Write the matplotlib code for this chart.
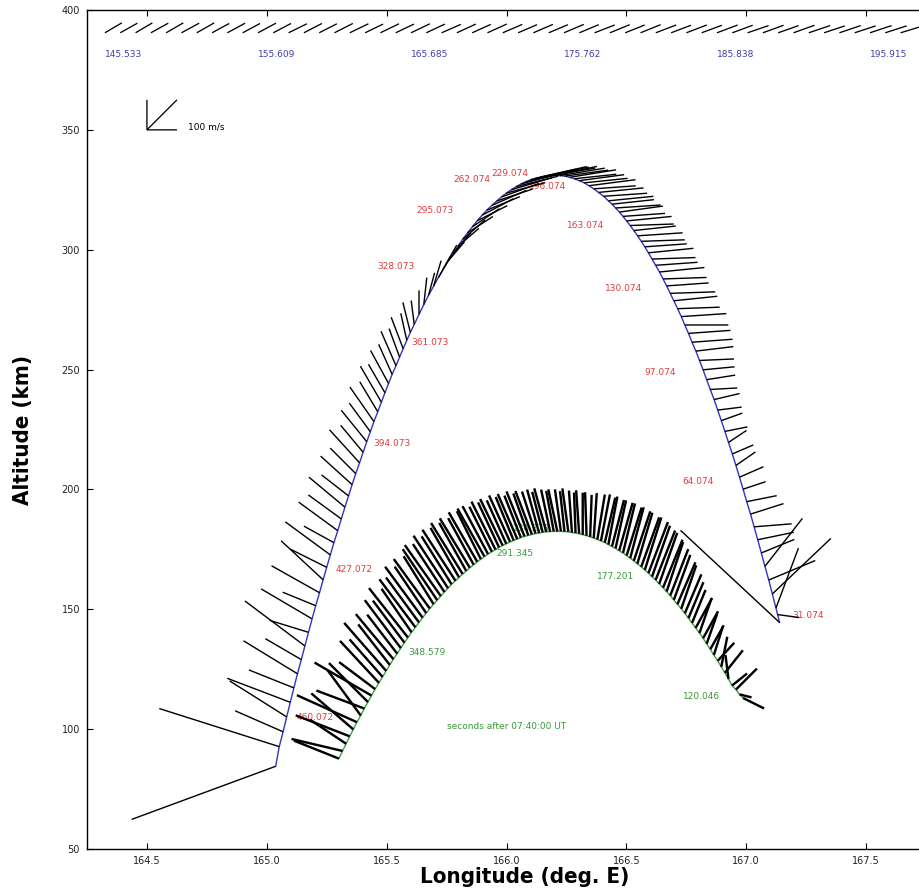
"""
Wind vectors along two rocket trajectories (longitude vs altitude).
Writes out.png (919x892).
"""
import matplotlib
matplotlib.use("Agg")
import matplotlib.pyplot as plt
from matplotlib import font_manager

# ---- blue trajectory (later flight) : sample positions ----
blue_lon = [165.037, 165.052, 165.068, 165.083, 165.098, 165.113, 165.128, 165.144, 165.159, 165.174,
            165.189, 165.204, 165.220, 165.235, 165.250, 165.265, 165.280, 165.296, 165.311, 165.326,
            165.341, 165.356, 165.371, 165.387, 165.402, 165.417, 165.432, 165.447, 165.463, 165.478,
            165.493, 165.508, 165.523, 165.539, 165.554, 165.569, 165.584, 165.599, 165.615,
            165.635, 165.655, 165.675, 165.696, 165.716, 165.736, 165.756, 165.777, 165.797, 165.817,
            165.837, 165.858, 165.878, 165.898, 165.918, 165.939, 165.959, 165.979, 165.999, 166.020,
            166.040, 166.060, 166.080, 166.101, 166.121, 166.141, 166.162, 166.182, 166.202, 166.222,
            166.243, 166.263, 166.283, 166.303, 166.324, 166.344, 166.364, 166.384, 166.405, 166.425,
            166.440, 166.455, 166.471, 166.486, 166.501, 166.516, 166.531, 166.547, 166.562, 166.577,
            166.592, 166.607, 166.622, 166.638, 166.653, 166.668, 166.683, 166.698, 166.714, 166.729,
            166.744, 166.759, 166.774, 166.790, 166.805, 166.820, 166.835, 166.850, 166.866, 166.881,
            166.896, 166.911, 166.926, 166.942, 166.957, 166.972, 166.987, 167.002, 167.018, 167.033,
            167.048, 167.063, 167.078, 167.094, 167.109, 167.124, 167.131, 167.139]
blue_alt = [84.5, 92.7, 98.9, 105.1, 111.2, 117.2, 123.1, 129.0, 134.7, 140.4,
            146.0, 151.5, 156.9, 162.3, 167.5, 172.7, 177.8, 182.8, 187.7, 192.6,
            197.3, 202.0, 206.6, 211.1, 215.5, 219.9, 224.1, 228.3, 232.4, 236.4,
            240.3, 244.2, 248.0, 251.6, 255.2, 258.7, 262.2, 265.5, 268.8,
            273.0, 277.1, 281.0, 284.8, 288.4, 291.9, 295.2, 298.4, 301.4, 304.3,
            307.0, 309.6, 312.1, 314.4, 316.5, 318.5, 320.3, 322.0, 323.6, 325.0,
            326.3, 327.4, 328.3, 329.2, 329.8, 330.3, 330.7, 330.9, 331.0, 330.9,
            330.7, 330.2, 329.6, 328.8, 327.9, 326.7, 325.4, 323.9, 322.3, 320.4,
            319.0, 317.4, 315.7, 313.9, 312.0, 310.1, 308.0, 305.8, 303.5, 301.2,
            298.7, 296.1, 293.5, 290.7, 287.8, 284.9, 281.8, 278.7, 275.4, 272.1,
            268.6, 265.1, 261.4, 257.7, 253.8, 249.9, 245.8, 241.7, 237.5, 233.1,
            228.7, 224.2, 219.6, 214.8, 210.0, 205.1, 200.1, 194.9, 189.7, 184.4,
            179.0, 173.5, 167.9, 162.2, 156.4, 150.5, 147.8, 144.5]
# wind components (m/s, east / north)
blue_u = [-480, -400, -160, -190, -210, -150, -180, -120, -200, -130,
          -170, -110, -160, -140, -120, -150, -100, -130, -110, -120,
          -90, -105, -85, -100, -75, -85, -70, -80, -60, -70,
          -55, -60, -45, -50, -35, -40, -20, -25, -10,
          0, 10, 20, 25, 40, 45, 55, 60, 70, 75,
          85, 90, 100, 105, 110, 115, 120, 125, 130, 135,
          140, 145, 135, 150, 140, 155, 145, 150, 140, 150,
          145, 155, 140, 150, 145, 155, 140, 150, 145, 150,
          140, 150, 145, 140, 150, 145, 140, 150, 145, 140,
          150, 145, 140, 150, 145, 140, 150, 145, 140, 150,
          145, 140, 135, 125, 115, 105, 95, 90, 85, 80,
          70, 75, 60, 70, 65, 80, 75, 100, 110, 125,
          120, 110, 125, 155, 195, 75, 72, -330]
blue_v = [-177, 127, 70, 120, 80, 60, 110, 70, 150, 40,
          100, 45, 90, 130, 60, 110, 55, 95, 80, 100,
          70, 95, 85, 110, 90, 105, 95, 115, 100, 120,
          95, 110, 100, 115, 95, 105, 90, 100, 80,
          80, 90, 75, 85, 70, 80, 65, 70, 60, 65,
          55, 60, 50, 55, 45, 50, 40, 45, 35, 40,
          35, 40, 30, 35, 25, 35, 30, 25, 30, 25,
          20, 25, 15, 20, 15, 20, 10, 15, 10, 15,
          15, 10, 20, 10, 15, 5, 15, 10, 5, 10,
          15, 5, 10, 15, 5, 10, 5, 15, 5, 10,
          0, 10, 10, 15, 5, 10, 15, 5, 20, 10,
          25, 15, 40, 30, 45, 35, 25, 20, 35, 10,
          25, 45, 160, 65, 185, 200, -10, 307]

# ---- green trajectory (earlier flight) ----
green_lon = [165.301, 165.316, 165.331, 165.346, 165.361, 165.376, 165.392, 165.407, 165.422, 165.437,
             165.452, 165.468, 165.483, 165.498, 165.513, 165.528, 165.544, 165.559, 165.574, 165.589,
             165.604, 165.620, 165.635, 165.650, 165.665, 165.680, 165.696, 165.711, 165.726, 165.741,
             165.756, 165.771, 165.787, 165.802, 165.817, 165.832, 165.847, 165.863, 165.878, 165.893,
             165.908, 165.923, 165.939, 165.954, 165.969, 165.984, 165.999, 166.015, 166.030, 166.045,
             166.060, 166.075, 166.091, 166.106, 166.121, 166.136, 166.151, 166.166, 166.182, 166.197,
             166.212, 166.227, 166.242, 166.258, 166.273, 166.288, 166.303, 166.318, 166.334, 166.349,
             166.364, 166.379, 166.394, 166.410, 166.425, 166.440, 166.455, 166.470, 166.486, 166.501,
             166.516, 166.531, 166.546, 166.562, 166.577, 166.592, 166.607, 166.622, 166.637, 166.653,
             166.668, 166.683, 166.698, 166.713, 166.729, 166.744, 166.759, 166.774, 166.789, 166.805,
             166.820, 166.835, 166.850, 166.865, 166.881, 166.896, 166.911, 166.926, 166.941, 166.957,
             166.972, 166.987]
green_alt = [87.7, 90.9, 93.9, 97.0, 99.9, 102.9, 105.7, 108.6, 111.3, 114.0,
             116.7, 119.3, 121.8, 124.3, 126.8, 129.2, 131.5, 133.8, 136.1, 138.2,
             140.4, 142.5, 144.5, 146.5, 148.4, 150.3, 152.1, 153.8, 155.5, 157.2,
             158.8, 160.4, 161.9, 163.3, 164.7, 166.0, 167.3, 168.6, 169.8, 170.9,
             172.0, 173.0, 174.0, 174.9, 175.8, 176.6, 177.3, 178.1, 178.7, 179.3,
             179.9, 180.4, 180.8, 181.2, 181.6, 181.8, 182.1, 182.3, 182.4, 182.5,
             182.5, 182.5, 182.4, 182.3, 182.0, 181.8, 181.5, 181.1, 180.7, 180.2,
             179.7, 179.1, 178.5, 177.8, 177.0, 176.2, 175.4, 174.4, 173.5, 172.4,
             171.3, 170.2, 169.0, 167.7, 166.4, 165.1, 163.6, 162.2, 160.6, 159.0,
             157.4, 155.7, 153.9, 152.1, 150.2, 148.3, 146.3, 144.3, 142.2, 140.1,
             137.9, 135.6, 133.3, 130.9, 128.5, 126.0, 123.5, 120.9, 118.2, 116.5,
             114.5, 113.0]
green_u = [-150, -170, -120, -180, -140, -200, -110, -160, -130, -190,
           -120, -130, -110, -140, -105, -125, -100, -120, -105, -130,
           -100, -120, -110, -125, -105, -120, -100, -115, -120, -105,
           -115, -100, -110, -95, -105, -90, -100, -85, -95, -80,
           -90, -85, -75, -80, -70, -75, -65, -70, -60, -65,
           -55, -60, -50, -55, -45, -40, -35, -40, -30, -25,
           -30, -20, -15, -20, -10, -5, -10, 0, -5, 5,
           10, 25, 30, 35, 30, 40, 35, 45, 40, 50,
           45, 55, 50, 60, 55, 65, 60, 65, 60, 65,
           55, 60, 55, 60, 50, 55, 50, 45, 55, 40,
           50, 35, 45, 30, 55, 20, 60, -10, 50, 70,
           40, 70]
green_v = [60, 40, 80, 70, 120, 90, 150, 60, 130, 110,
           90, 140, 125, 160, 135, 150, 130, 160, 140, 165,
           145, 160, 150, 170, 155, 165, 160, 170, 170, 160,
           175, 160, 170, 165, 170, 160, 165, 155, 165, 160,
           160, 160, 150, 160, 150, 155, 145, 155, 145, 150,
           140, 150, 140, 145, 140, 145, 135, 145, 140, 135,
           140, 140, 135, 145, 140, 135, 145, 140, 145, 140,
           150, 150, 155, 150, 160, 155, 160, 160, 165, 160,
           170, 165, 170, 165, 175, 170, 170, 165, 170, 160,
           165, 155, 150, 140, 145, 130, 120, 110, 100, 115,
           90, 100, 80, 95, 60, 100, 75, 80, 40, 70,
           -10, -35]

# ---- time labels (seconds after 07:40:00 UT) ----
red_text = ["460.072", "427.072", "394.073", "361.073", "328.073", "295.073", "262.074",
            "229.074", "196.074", "163.074", "130.074", "97.074", "64.074", "31.074"]
red_lon = [165.126, 165.285, 165.443, 165.602, 165.460, 165.623, 165.777,
           165.935, 166.094, 166.253, 166.411, 166.574, 166.732, 167.191]
red_alt = [104.7, 166.4, 219.0, 261.1, 293.2, 316.2, 329.1,
           332.0, 326.2, 309.9, 284.0, 248.6, 203.5, 147.6]

green_text = ["348.579", "291.345", "234.273", "177.201", "120.046"]
green_lab_lon = [165.589, 165.956, 166.023, 166.378, 166.736]
green_lab_alt = [132.0, 173.1, 183.7, 163.8, 113.6]

# ---- top row: winds at fixed height vs time ----
top_times = ["145.533", "155.609", "165.685", "175.762", "185.838", "195.915"]
hatch_u = [56, 57, 56, 58, 57, 59, 58, 57, 59, 58, 60, 59, 61, 60, 59, 61, 62, 60, 62, 61,
           63, 62, 64, 63, 62, 64, 65, 63, 65, 64, 66, 65, 67, 66, 65, 67, 68, 66, 68, 67,
           69, 68, 70, 69, 68, 70, 71, 69, 71, 70, 72, 71, 72]
hatch_v = [33, 32, 33, 32, 33, 32, 33, 31, 32, 31, 32, 31, 30, 31, 30, 31, 30, 29, 30, 29,
           30, 29, 28, 29, 28, 29, 28, 27, 28, 27, 28, 27, 26, 27, 26, 27, 26, 25, 26, 25,
           26, 25, 24, 25, 24, 25, 24, 23, 24, 23, 24, 23, 22]

RED = "#e03c3c"
GREEN = "#3a9a3a"
LBLUE = "#3f3fa8"

fig = plt.figure(figsize=(9.19, 8.92), dpi=100)
ax = fig.add_axes([87 / 919, 43 / 892, 839 / 919, 839 / 892])
ax.set_xlim(164.25, 167.75)
ax.set_ylim(50, 400)

# headless quiver: 100 m/s -> 30 px
qkw = dict(angles="uv", scale_units="dots", scale=10 / 3, units="dots", width=1.3,
           headwidth=0, headlength=0, headaxislength=0, pivot="tail", color="black",
           snap=False, antialiased=True)

ax.plot(blue_lon, blue_alt, color="#3333c0", lw=1.0, zorder=2)
ax.plot(green_lon, green_alt, color="#40a040", lw=1.0, zorder=2)
ax.quiver(blue_lon, blue_alt, blue_u, blue_v, zorder=3, **{**qkw, "width": 1.4})
ax.quiver(green_lon, green_alt, green_u, green_v, zorder=3, **{**qkw, "width": 2.4})

for s, x, y in zip(red_text, red_lon, red_alt):
    ax.text(x, y, s, color=RED, fontsize=6.5, ha="left", va="center", zorder=1)
for s, x, y in zip(green_text, green_lab_lon, green_lab_alt):
    ax.text(x, y, s, color=GREEN, fontsize=6.5, ha="left", va="center", zorder=1)
ax.text(165.752, 100.9, "seconds after 07:40:00 UT", color=GREEN, fontsize=6.5,
        ha="left", va="center")

# top row, one hatch per ~1 s, label every 10th
hatch_x0, hatch_dx = 164.325, 0.06383
hatch_lon = [hatch_x0 + i * hatch_dx for i in range(len(hatch_u))]
ax.quiver(hatch_lon, [390.5] * len(hatch_lon), hatch_u, hatch_v, **qkw)
for i, s in enumerate(top_times):
    ax.text(hatch_lon[10 * i], 381.5, s, color=LBLUE, fontsize=6.5, ha="left", va="center")

# scale key
ax.quiver([164.5] * 3, [350] * 3, [0, 100, 100], [100, 0, 100], **qkw)
ax.text(164.671, 351.0, "100 m/s", fontsize=6.5, ha="left", va="center")

ax.set_xticks([164.5, 165.0, 165.5, 166.0, 166.5, 167.0, 167.5])
ax.set_yticks(range(50, 401, 50))
ax.tick_params(direction="in", top=True, right=True, length=4, width=0.8,
               labelsize=7, pad=5, labelcolor="#222222")
for sp in ax.spines.values():
    sp.set_linewidth(1.0)

# bold condensed axis titles if a condensed face is around, else a smaller bold
lab_font = dict(family="DejaVu Sans", weight="bold", stretch="condensed", size=16)
found = font_manager.findfont(font_manager.FontProperties(**lab_font))
if "Condensed" not in found:
    lab_font["size"] = 13.5
ax.set_xlabel("Longitude (deg. E)", **lab_font)
ax.set_ylabel("Altitude (km)", **lab_font)
ax.xaxis.set_label_coords(0.522, -0.021)
ax.yaxis.set_label_coords(-0.0644, 0.5)

fig.savefig("out.png", dpi=100)
